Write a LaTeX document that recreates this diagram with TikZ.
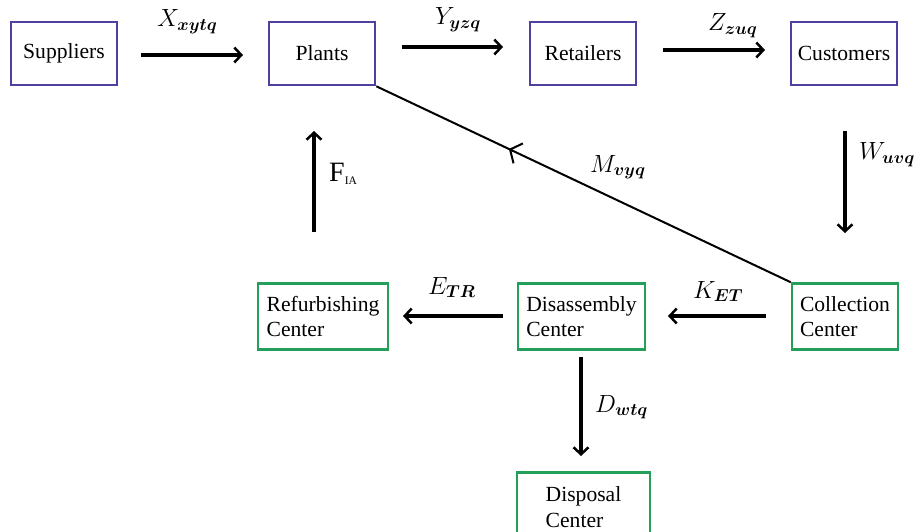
\documentclass[tikz,border=0pt]{standalone}
\usepackage{fontspec}
\setmainfont{Liberation Serif}
\usepackage{bm}
\usetikzlibrary{arrows.meta,calc}
\definecolor{pbox}{RGB}{80,62,160}
\definecolor{gbox}{RGB}{34,160,90}
\tikzset{
  pnode/.style={draw=pbox, line width=2.5pt, minimum width=106pt, minimum height=63pt, inner sep=0pt, font=\fontsize{21.6}{25}\selectfont},
  gnode/.style={draw=gbox, line width=2.5pt, minimum height=66pt, inner sep=0pt, align=left, font=\fontsize{21.6}{25.5}\selectfont},
  flow/.style={line width=3.5pt, -{Straight Barb[length=7pt,width=15pt,line width=2.5pt]}},
  lbl/.style={font=\fontsize{25}{30}\selectfont, inner sep=0pt, anchor=base west}
}
\begin{document}
\begin{tikzpicture}[x=1pt,y=-1pt]
\useasboundingbox (0,0) rectangle (921,532);
\node[pnode] (sup) at (64,53.5) {Suppliers};
\node[pnode] (pla) at (322,53.5) {Plants};
\node[pnode] (ret) at (583,53.5) {Retailers};
\node[pnode] (cus) at (844,53.5) {Customers};
\node[gnode, minimum width=130pt] (ref) at (323,316.5) {Refurbishing\\Center};
\node[gnode, minimum width=127pt] (dis) at (581.5,316.5) {Disassembly\\Center};
\node[gnode, minimum width=106pt] (col) at (845,316.5) {Collection\\Center};
\node[gnode, minimum width=133pt, minimum height=70pt, anchor=north] (dsp) at (583.5,471) {Disposal\\Center};

\coordinate (x1) at (141,55); \coordinate (x2) at (243,55);
\draw[flow] (x1) -- (x2);
\node[lbl] (lx) at (157,27) {$X_{\bm{xytq}}$};
\coordinate (y1) at (402,47); \coordinate (y2) at (503,47);
\draw[flow] (y1) -- (y2);
\node[lbl] (ly) at (435,25) {$Y_{\bm{yzq}}$};
\coordinate (z1) at (663,50); \coordinate (z2) at (765,50);
\draw[flow] (z1) -- (z2);
\node[lbl] (lz) at (708,31) {$Z_{\bm{zuq}}$};
\coordinate (w1) at (845,131); \coordinate (w2) at (845,233);
\draw[flow] (w1) -- (w2);
\node[lbl] (lw) at (859,160) {$W_{\bm{uvq}}$};
\coordinate (f1) at (314,232); \coordinate (f2) at (314,131);
\draw[flow] (f1) -- (f2);
\node[inner sep=0pt, anchor=base west, font=\fontsize{28}{30}\selectfont] (lf) at (329,182) {F\raisebox{-3pt}{\fontsize{11.5}{12}\selectfont IA}};
\draw[line width=2pt] (pla.south east) -- (col.north west);
\draw[line width=2pt, -{Straight Barb[length=9pt,width=22pt,line width=2pt]}] ($(col.north west)!0.67!(pla.south east)$) -- ($(col.north west)!0.68!(pla.south east)$);
\node[lbl] (lm) at (590,172) {$M_{\bm{vyq}}$};
\coordinate (k1) at (766,316); \coordinate (k2) at (668,316);
\draw[flow] (k1) -- (k2);
\node[lbl] (lk) at (693,298) {$K_{\bm{ET}}$};
\coordinate (e1) at (503,316); \coordinate (e2) at (403,316);
\draw[flow] (e1) -- (e2);
\node[lbl] (le) at (428,294) {$E_{\bm{TR}}$};
\coordinate (d1) at (581,357); \coordinate (d2) at (581,456);
\draw[flow] (d1) -- (d2);
\node[lbl] (ld) at (595,412) {$D_{\bm{wtq}}$};
\end{tikzpicture}
\end{document}
